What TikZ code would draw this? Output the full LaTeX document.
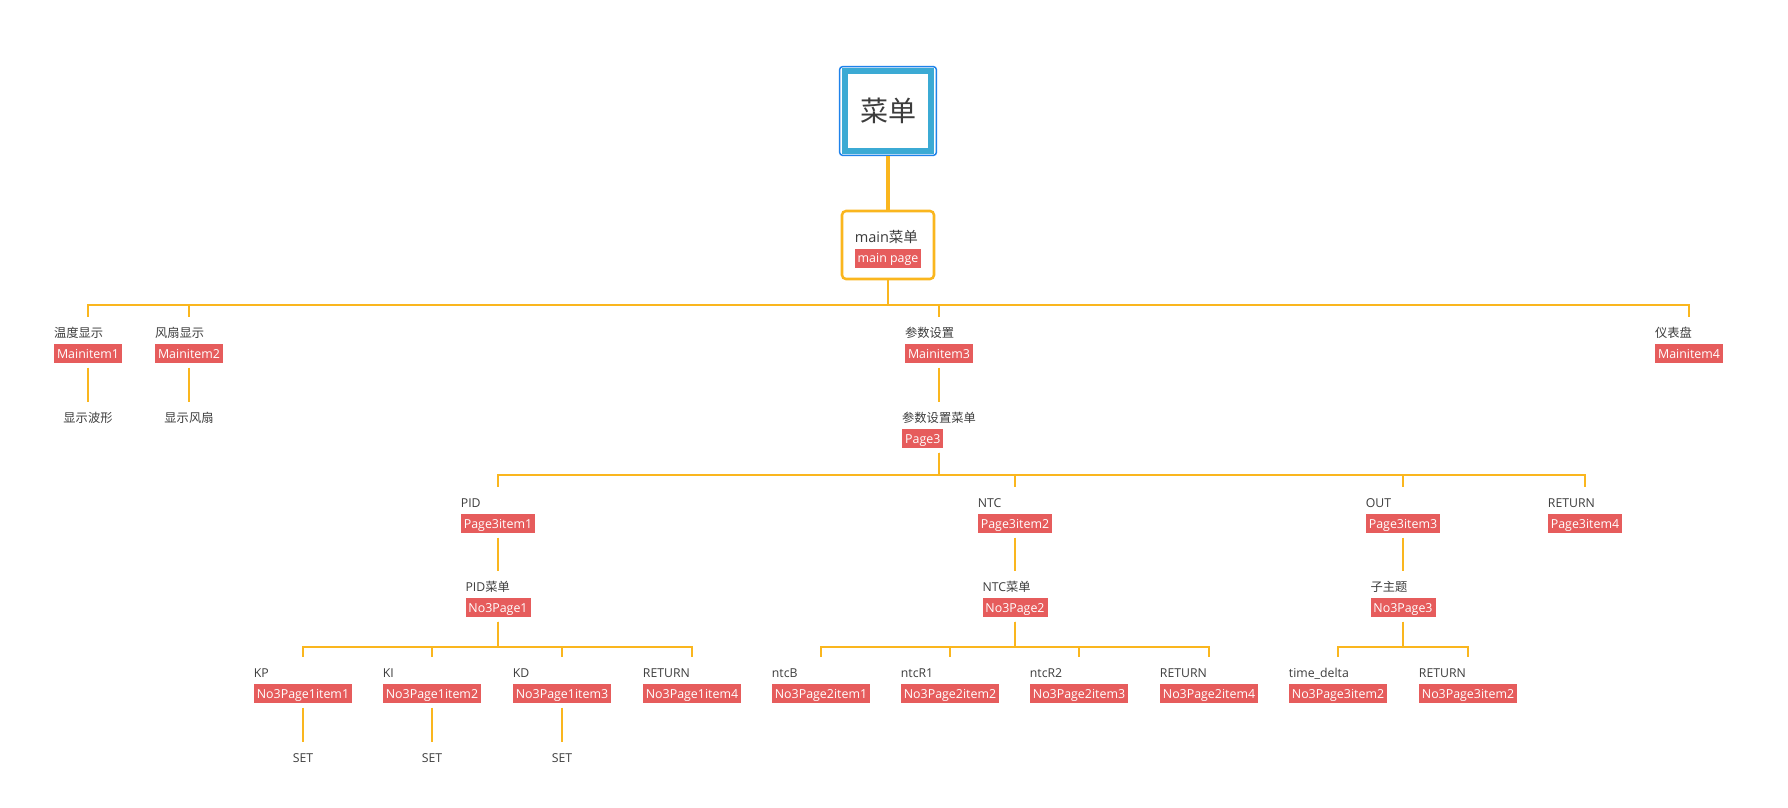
\documentclass[tikz,border=0pt]{standalone}
\usepackage{fontspec}
\setmainfont{Open Sans}
\newfontfamily\cjk{Noto Sans CJK SC}
\definecolor{linkorange}{RGB}{250,182,30}
\definecolor{badgered}{RGB}{230,92,92}
\definecolor{labelgrey}{RGB}{60,60,60}
\definecolor{rootcyan}{RGB}{59,170,212}
\definecolor{rootblue}{RGB}{30,130,235}
\newcommand{\badge}[1]{{\setlength{\fboxsep}{0pt}\colorbox{badgered}{\hspace{2.2pt}\rule[-4pt]{0pt}{14.25pt}\fontsize{9.3pt}{11pt}\selectfont\color{white}#1\hspace{2.2pt}}}}
\newcommand{\itm}[2]{\rule[-4.5pt]{0pt}{16.3pt}{#1}\\\badge{#2}}

\begin{document}
\begin{tikzpicture}[x=0.75pt, y=-0.75pt]
  \tikzset{item/.style = { anchor=north, align=left, inner xsep=0pt, inner ysep=3pt, text=labelgrey, font=\fontsize{9.2pt}{11pt}\selectfont }}
  \tikzset{leaf/.style = { anchor=north, inner xsep=0pt, inner ysep=3pt, text height=11.8pt, text depth=4.5pt, text=labelgrey, font=\fontsize{9.2pt}{11pt}\selectfont }}
  \tikzset{link/.style = { draw=linkorange, line width=1.5pt }}
  \tikzset{rootframe/.style = { draw=rootblue, line width=1.1pt, rounded corners=2.5pt, fill=white, minimum width=72.7pt, minimum height=66.7pt, inner sep=0pt }}
  \tikzset{rootbox/.style = { draw=rootcyan, line width=4.5pt, fill=white, minimum width=64.5pt, minimum height=60pt, inner sep=0pt, text=labelgrey, font=\fontsize{21pt}{25pt}\cjk }}
  \tikzset{mainbox/.style = { draw=linkorange, line width=1.9pt, rounded corners=3pt, fill=white, minimum width=69pt, minimum height=51pt, inner sep=0pt, align=left, text=labelgrey, font=\fontsize{10.9pt}{13pt}\selectfont }}
  \useasboundingbox (0,0) rectangle (1788,807);

  % root and main menu
  \node[name = rootframe, rootframe] at (888,111) {};
  \node[name = root, rootbox] at (888,111) {菜单};
  \node[name = main, mainbox] at (888,245) {\rule[-4pt]{0pt}{19.5pt}main{\cjk 菜单}\\\badge{main page}};
  \draw [link, line width=3.5pt] (rootframe.south) -- (main.north);

  % level 1
  \node[name = m1, item] at (88,317) {\itm{\cjk 温度显示}{Mainitem1}};
  \node[name = m2, item] at (189,317) {\itm{\cjk 风扇显示}{Mainitem2}};
  \node[name = m3, item] at (939,317) {\itm{\cjk 参数设置}{Mainitem3}};
  \node[name = m4, item] at (1689,317) {\itm{\cjk 仪表盘}{Mainitem4}};

  \draw [link] (main.south) -- ++(0,25) -| (m1.north);
  \draw [link] (main.south) -- ++(0,25) -| (m2.north);
  \draw [link] (main.south) -- ++(0,25) -| (m3.north);
  \draw [link] (main.south) -- ++(0,25) -| (m4.north);

  \node[name = w1, leaf] at (88,402) {\cjk 显示波形};
  \node[name = w2, leaf] at (189,402) {\cjk 显示风扇};
  \draw [link] (m1.south) -- (w1.north);
  \draw [link] (m2.south) -- (w2.north);

  % parameter page
  \node[name = pg3, item] at (939,402) {\itm{\cjk 参数设置菜单}{Page3}};
  \draw [link] (m3.south) -- (pg3.north);

  \node[name = p1, item] at (498,487) {\itm{PID}{Page3item1}};
  \node[name = p2, item] at (1015,487) {\itm{NTC}{Page3item2}};
  \node[name = p3, item] at (1403,487) {\itm{OUT}{Page3item3}};
  \node[name = p4, item] at (1585,487) {\itm{RETURN}{Page3item4}};

  \draw [link] (pg3.south) -- ++(0,22) -| (p1.north);
  \draw [link] (pg3.south) -- ++(0,22) -| (p2.north);
  \draw [link] (pg3.south) -- ++(0,22) -| (p3.north);
  \draw [link] (pg3.south) -- ++(0,22) -| (p4.north);

  \node[name = q1, item] at (498,571) {\itm{PID{\cjk 菜单}}{No3Page1}};
  \node[name = q2, item] at (1015,571) {\itm{NTC{\cjk 菜单}}{No3Page2}};
  \node[name = q3, item] at (1403,571) {\itm{\cjk 子主题}{No3Page3}};

  \draw [link] (p1.south) -- (q1.north);
  \draw [link] (p2.south) -- (q2.north);
  \draw [link] (p3.south) -- (q3.north);

  % PID page
  \node[name = k1, item] at (303,657) {\itm{KP}{No3Page1item1}};
  \node[name = k2, item] at (432,657) {\itm{KI}{No3Page1item2}};
  \node[name = k3, item] at (562,657) {\itm{KD}{No3Page1item3}};
  \node[name = k4, item] at (692,657) {\itm{RETURN}{No3Page1item4}};

  \draw [link] (q1.south) -- ++(0,25) -| (k1.north);
  \draw [link] (q1.south) -- ++(0,25) -| (k2.north);
  \draw [link] (q1.south) -- ++(0,25) -| (k3.north);
  \draw [link] (q1.south) -- ++(0,25) -| (k4.north);

  \node[name = s1, leaf] at (303,742) {SET};
  \node[name = s2, leaf] at (432,742) {SET};
  \node[name = s3, leaf] at (562,742) {SET};
  \draw [link] (k1.south) -- (s1.north);
  \draw [link] (k2.south) -- (s2.north);
  \draw [link] (k3.south) -- (s3.north);

  % NTC page
  \node[name = n1, item] at (821,657) {\itm{ntcB}{No3Page2item1}};
  \node[name = n2, item] at (950,657) {\itm{ntcR1}{No3Page2item2}};
  \node[name = n3, item] at (1079,657) {\itm{ntcR2}{No3Page2item3}};
  \node[name = n4, item] at (1209,657) {\itm{RETURN}{No3Page2item4}};

  \draw [link] (q2.south) -- ++(0,25) -| (n1.north);
  \draw [link] (q2.south) -- ++(0,25) -| (n2.north);
  \draw [link] (q2.south) -- ++(0,25) -| (n3.north);
  \draw [link] (q2.south) -- ++(0,25) -| (n4.north);

  % OUT page
  \node[name = o1, item] at (1338,657) {\itm{time\_delta}{No3Page3item2}};
  \node[name = o2, item] at (1468,657) {\itm{RETURN}{No3Page3item2}};

  \draw [link] (q3.south) -- ++(0,25) -| (o1.north);
  \draw [link] (q3.south) -- ++(0,25) -| (o2.north);
\end{tikzpicture}
\end{document}
